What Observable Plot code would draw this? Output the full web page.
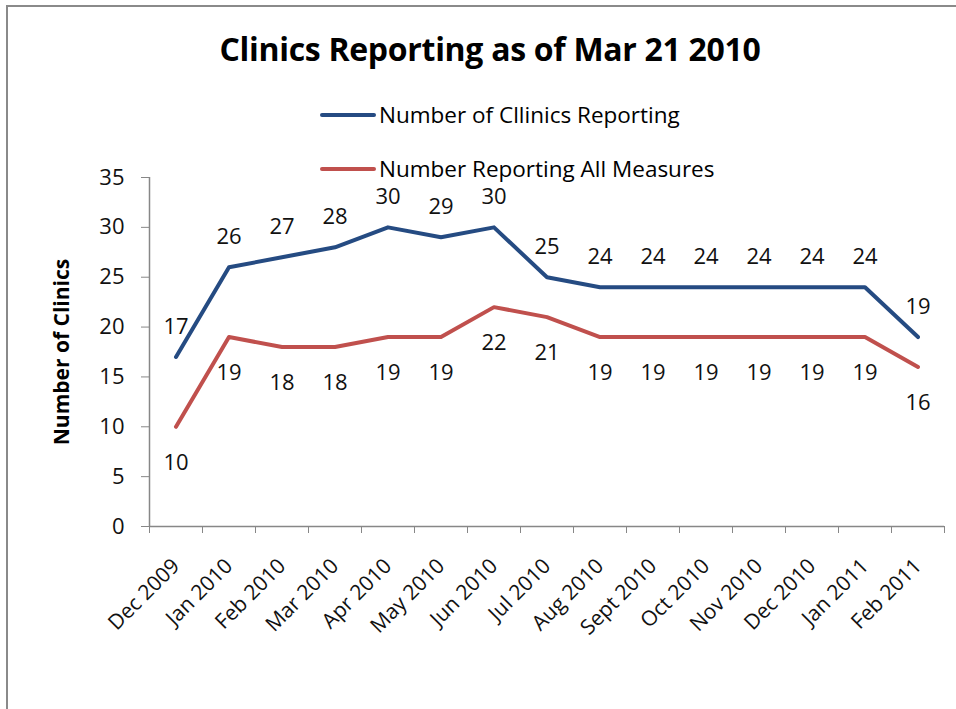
<!DOCTYPE html>
<html><head><meta charset="utf-8">
<script src="https://cdn.jsdelivr.net/npm/d3@7"></script>
<script src="https://cdn.jsdelivr.net/npm/@observablehq/plot@0.6"></script>
<style>
body{margin:0;background:#fff;font-family:"Open Sans",sans-serif;color:#000}
#wrap{position:relative;width:956px;height:709px;overflow:hidden;background:#fff}
#frame{position:absolute;left:6px;top:5px;width:1000px;height:800px;border-left:2px solid #8a8a8a;border-top:2px solid #8a8a8a;pointer-events:none}
#chart{position:absolute;left:0;top:0}
#title{position:absolute;left:490px;top:27px;transform:translateX(-50%);white-space:nowrap;font-size:32px;font-weight:bold;line-height:44px;letter-spacing:-0.3px}
.leg{position:absolute;left:320px;white-space:nowrap;font-size:22.5px;line-height:26px;display:flex;align-items:center}
.sw{display:inline-block;width:56px;height:4px;border-radius:2px;margin-right:3px}
</style></head>
<body>
<div id="wrap">
  <div id="chart"></div>
  <div id="title"></div>
  <div class="leg" id="leg1" style="top:102px"><span class="sw" id="sw1"></span><span id="lt1"></span></div>
  <div class="leg" id="leg2" style="top:156px"><span class="sw" id="sw2"></span><span id="lt2"></span></div>
  <div id="frame"></div>
</div>
<script>
const titleText = "Clinics Reporting as of Mar 21 2010";
const yLabel = "Number of Clinics";
const seriesNames = ["Number of Cllinics Reporting", "Number Reporting All Measures"];
const seriesColors = ["#254B82", "#C0504D"];
const months = ["Dec 2009","Jan 2010","Feb 2010","Mar 2010","Apr 2010","May 2010","Jun 2010","Jul 2010","Aug 2010","Sept 2010","Oct 2010","Nov 2010","Dec 2010","Jan 2011","Feb 2011"];
const reporting = [17,26,27,28,30,29,30,25,24,24,24,24,24,24,19];
const allMeasures = [10,19,18,18,19,19,22,21,19,19,19,19,19,19,16];
const yTicks = [0,5,10,15,20,25,30,35];

document.getElementById("title").textContent = titleText;
document.getElementById("lt1").textContent = seriesNames[0];
document.getElementById("lt2").textContent = seriesNames[1];
document.getElementById("sw1").style.background = seriesColors[0];
document.getElementById("sw2").style.background = seriesColors[1];

const idx = months.map((_, i) => i);
const bounds = d3.range(months.length + 1).map(i => i - 0.5);
const axisGray = "#878787";

const chart = Plot.plot({
  width: 956, height: 709,
  marginLeft: 149, marginRight: 12, marginTop: 177, marginBottom: 183,
  style: {fontFamily: "'Open Sans', sans-serif", background: "transparent", color: "#000"},
  x: {type: "linear", domain: [-0.5, months.length - 0.5]},
  y: {domain: [0, 35]},
  marks: [
    Plot.axisY({ticks: yTicks, tickSize: 8, tickPadding: 17, fontSize: 22, stroke: axisGray, fill: "#111", label: null}),
    Plot.axisX({ticks: bounds, tickSize: 7, tickFormat: () => "", stroke: axisGray, label: null}),
    Plot.axisX({ticks: idx, tickSize: 0, tickPadding: 36, tickRotate: -45, fontSize: 21, fill: "#111", tickFormat: i => months[i], label: null}),
    Plot.ruleY([0], {stroke: axisGray, strokeWidth: 1.5}),
    Plot.ruleX([-0.5], {stroke: axisGray, strokeWidth: 1.5}),
    Plot.lineY(reporting, {x: (d, i) => i, y: d => d, stroke: seriesColors[0], strokeWidth: 4, strokeLinecap: "round", strokeLinejoin: "round"}),
    Plot.lineY(allMeasures, {x: (d, i) => i, y: d => d, stroke: seriesColors[1], strokeWidth: 4, strokeLinecap: "round", strokeLinejoin: "round"}),
    Plot.text(reporting, {x: (d, i) => i, y: d => d, text: d => String(d), dy: -30, fontSize: 22, fill: "#111"}),
    Plot.text(allMeasures, {x: (d, i) => i, y: d => d, text: d => String(d), dy: 36, fontSize: 22, fill: "#111"}),
    Plot.text([yLabel], {frameAnchor: "left", textAnchor: "middle", dx: -87, rotate: -90, fontSize: 21, fontWeight: "bold", fill: "#000"})
  ]
});
document.getElementById("chart").appendChild(chart);
</script>
</body></html>
